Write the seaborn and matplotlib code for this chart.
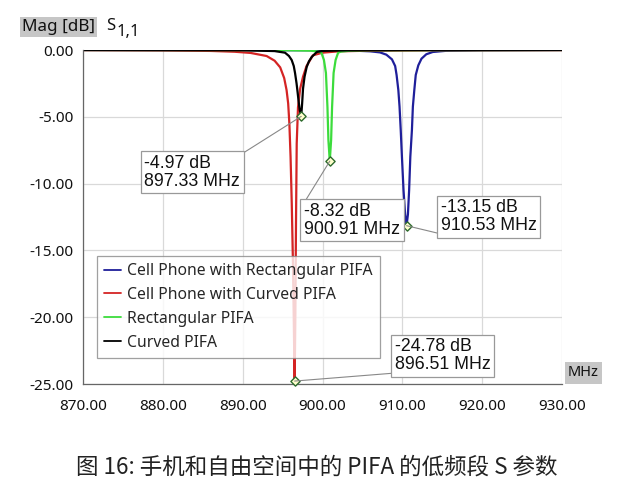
import numpy as np
import pandas as pd
import matplotlib
matplotlib.use("Agg")
import matplotlib.pyplot as plt
from matplotlib.ticker import FormatStrFormatter
import seaborn as sns

# ---- data ----
series_names = ["Cell Phone with Rectangular PIFA", "Cell Phone with Curved PIFA",
                "Rectangular PIFA", "Curved PIFA"]
series_colors = ["#1f1f9a", "#d42424", "#3cdc3c", "#000000"]

blue_f = [870, 900, 904, 906, 907.2, 908.0, 908.7, 909.1, 909.28, 909.5, 909.65, 909.8,
          909.95, 910.15, 910.35, 910.53, 910.7, 910.85, 911.0, 911.2, 911.32, 911.5,
          911.68, 912.0, 912.4, 913.0, 913.8, 915.5, 920, 930]
blue_m = [0.0, -0.02, -0.05, -0.1, -0.18, -0.35, -0.7, -1.2, -1.87, -3.0, -4.24, -6.0,
          -8.0, -10.5, -12.3, -13.15, -12.3, -10.5, -8.0, -6.0, -4.24, -3.0,
          -1.87, -1.15, -0.65, -0.32, -0.15, -0.06, -0.02, 0.0]

red_f = [870, 880, 886, 889, 891, 893, 894, 894.7, 895.2, 895.5, 895.7, 895.85, 896.0,
         896.15, 896.3, 896.42, 896.51, 896.6, 896.68, 896.77, 896.93, 897.2, 897.56,
         898.0, 898.8, 900, 902, 906, 915, 930]
red_m = [-0.01, -0.03, -0.07, -0.13, -0.22, -0.45, -0.8, -1.3, -2.1, -3.0, -4.0, -5.5, -8.0,
         -11.5, -16.0, -21.0, -24.78, -20.0, -13.0, -7.0, -4.3, -2.9, -2.0,
         -1.2, -0.4, -0.2, -0.1, -0.05, -0.02, -0.01]

green_f = [870, 895, 898.5, 899.5, 899.86, 900.18, 900.43, 900.62, 900.74, 900.91,
           901.08, 901.2, 901.39, 901.64, 901.96, 902.3, 903.5, 906, 930]
green_m = [0.0, -0.01, -0.05, -0.12, -0.2, -0.75, -1.72, -4.27, -6.74, -8.32,
           -6.74, -4.27, -1.72, -0.75, -0.2, -0.12, -0.05, -0.02, 0.0]

black_f = [870, 890, 894, 895.3, 895.8, 896.14, 896.4, 896.56, 896.75, 896.85, 897.0,
           897.15, 897.33, 897.45, 897.56, 897.75, 898.02, 898.3, 898.65, 899.28, 900,
           903, 910, 930]
black_m = [0.0, -0.02, -0.08, -0.2, -0.45, -0.75, -1.2, -1.72, -2.5, -3.0, -3.8,
           -4.5, -4.97, -4.0, -2.9, -2.0, -1.27, -0.85, -0.52, -0.15, -0.07,
           -0.03, -0.01, 0.0]

marker_f = [897.33, 900.91, 910.53, 896.51]
marker_m = [-4.97, -8.32, -13.15, -24.78]
marker_labels = ["-4.97 dB\n897.33 MHz", "-8.32 dB\n900.91 MHz",
                 "-13.15 dB\n910.53 MHz", "-24.78 dB\n896.51 MHz"]

x_ticks = [870, 880, 890, 900, 910, 920, 930]
y_ticks = [0, -5, -10, -15, -20, -25]
caption = "图 16: 手机和自由空间中的 PIFA 的低频段 S 参数"

# ---- build table ----
frames = []
for name, f, m in [(series_names[0], blue_f, blue_m), (series_names[1], red_f, red_m),
                   (series_names[2], green_f, green_m), (series_names[3], black_f, black_m)]:
    frames.append(pd.DataFrame({"freq": f, "mag": m, "series": name}))
df = pd.concat(frames, ignore_index=True)

sns.set_theme(style="white")
plt.rcParams["font.family"] = ["Noto Sans", "DejaVu Sans"]
plt.rcParams["axes.unicode_minus"] = False

fig = plt.figure(figsize=(6.4, 4.92), dpi=100)
fig.patch.set_facecolor("white")
ax = fig.add_axes([83 / 640, 1 - 384 / 492, (562 - 83) / 640, (384 - 50) / 492])

sns.lineplot(data=df, x="freq", y="mag", hue="series", hue_order=series_names,
             palette=dict(zip(series_names, series_colors)), estimator=None,
             sort=False, linewidth=1.6, ax=ax, legend=True)

ax.set_xlim(870, 930)
ax.set_ylim(-25, 0)
ax.set_xticks(x_ticks)
ax.set_yticks(y_ticks)
ax.xaxis.set_major_formatter(FormatStrFormatter("%.2f"))
ax.yaxis.set_major_formatter(FormatStrFormatter("%.2f"))
ax.tick_params(axis="both", labelsize=11, direction="inout",
               length=7, width=0.8, colors="#555555", labelcolor="#111111")
ax.tick_params(axis="x", pad=7)
ax.tick_params(axis="y", pad=3)
ax.grid(True, color="#d9d9d9", linewidth=0.9)
ax.set_axisbelow(True)
for s in ["top", "right"]:
    ax.spines[s].set_visible(False)
for s in ["left", "bottom"]:
    ax.spines[s].set_color("#666666")
    ax.spines[s].set_linewidth(0.9)
ax.set_xlabel("")
ax.set_ylabel("")
ax.set_facecolor("white")

# markers
ax.scatter(marker_f, marker_m, marker="D", s=22, facecolor="#ffffcc",
           edgecolor="#2d6a2d", linewidth=1.0, zorder=6, clip_on=False)

# annotations
ann_pos = [(889.67, -7.86, "right", "top", (1, 1)),
           (897.68, -11.45, "left", "top", (0, 1)),
           (914.85, -13.77, "left", "bottom", (0, 0)),
           (909.08, -24.18, "left", "bottom", (0, 0))]
for (fx, my), lab, (tx, ty, ha, va, rp) in zip(zip(marker_f, marker_m), marker_labels, ann_pos):
    ax.annotate(lab, xy=(fx, my), xytext=(tx, ty), textcoords="data",
                ha=ha, va=va, multialignment="left", fontsize=12.8,
                family=["Liberation Sans", "DejaVu Sans"],
                linespacing=1.05, color="#111111",
                bbox=dict(boxstyle="square,pad=0.2", fc="white", ec="#999999", lw=0.9),
                arrowprops=dict(arrowstyle="-", color="#888888", lw=0.8, relpos=rp,
                                shrinkA=0, shrinkB=0),
                zorder=7)

# legend
handles, labels = ax.get_legend_handles_labels()
leg = ax.legend(handles, labels, loc="upper left", bbox_to_anchor=(0.029, 0.383),
                fontsize=11.3, frameon=True, fancybox=False, handlelength=1.1,
                handletextpad=0.4, borderpad=0.45, labelspacing=0.5, borderaxespad=0)
leg.get_frame().set_edgecolor("#888888")
leg.get_frame().set_linewidth(0.9)
for lh in leg.get_lines():
    lh.set_linewidth(1.3)

# header labels
fig.text(22 / 640, 1 - 27 / 492, "Mag [dB]", fontsize=12.3, va="center", ha="left",
         color="#111111",
         bbox=dict(boxstyle="square,pad=0.12", fc="#c6c6c6", ec="none"))
fig.text(106 / 640, 1 - 26 / 492, "S", fontsize=12, va="center", ha="left", color="#111111")
fig.text(117 / 640, 1 - 32 / 492, "1,1", fontsize=12, va="center", ha="left", color="#111111")
fig.text(568 / 640, 1 - 373 / 492, "MHz", fontsize=10.5, va="center", ha="left",
         color="#111111",
         bbox=dict(boxstyle="square,pad=0.22", fc="#c6c6c6", ec="none"))

fig.text(317 / 640, 1 - 467 / 492, caption, fontsize=16.2, ha="center", va="center",
         color="#222222", family=["Noto Sans CJK SC", "DejaVu Sans"])

fig.savefig("out.png", dpi=100, facecolor="white")
